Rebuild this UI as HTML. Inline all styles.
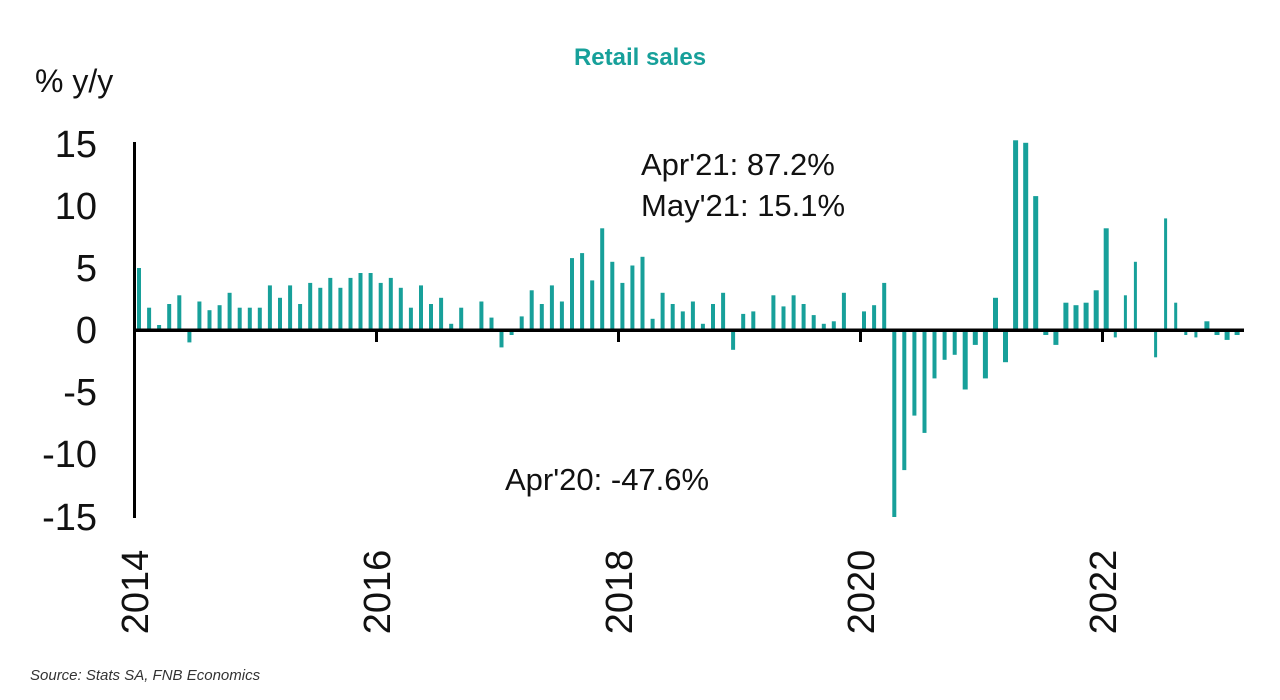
<!DOCTYPE html>
<html><head><meta charset="utf-8"><style>
html,body{margin:0;padding:0;background:#fff;width:1280px;height:700px;overflow:hidden}
svg text{font-family:"Liberation Sans",sans-serif}
</style></head><body>
<svg width="1280" height="700" xmlns="http://www.w3.org/2000/svg">
<text x="640" y="65" text-anchor="middle" font-size="24" font-weight="bold" fill="#17a09a">Retail sales</text>
<text x="35" y="92" font-size="32" fill="#111">% y/y</text>
<g font-size="38" fill="#111" text-anchor="end">
<text x="97" y="157">15</text>
<text x="97" y="219">10</text>
<text x="97" y="281">5</text>
<text x="97" y="343">0</text>
<text x="97" y="405">-5</text>
<text x="97" y="467">-10</text>
<text x="97" y="530">-15</text>
</g>
<g fill="#17a09a">
<rect x="137.0" y="268" width="4" height="62"/>
<rect x="147.1" y="307.7" width="4" height="22.3"/>
<rect x="157.1" y="325" width="4" height="5"/>
<rect x="167.2" y="304" width="4" height="26"/>
<rect x="177.3" y="295.3" width="4" height="34.7"/>
<rect x="187.4" y="330" width="4" height="12.4"/>
<rect x="197.4" y="301.5" width="4" height="28.5"/>
<rect x="207.5" y="310.2" width="4" height="19.8"/>
<rect x="217.6" y="305.2" width="4" height="24.8"/>
<rect x="227.6" y="292.8" width="4" height="37.2"/>
<rect x="237.7" y="307.7" width="4" height="22.3"/>
<rect x="247.8" y="307.7" width="4" height="22.3"/>
<rect x="257.8" y="307.7" width="4" height="22.3"/>
<rect x="267.9" y="285.4" width="4" height="44.6"/>
<rect x="278.0" y="297.8" width="4" height="32.2"/>
<rect x="288.1" y="285.4" width="4" height="44.6"/>
<rect x="298.1" y="304" width="4" height="26"/>
<rect x="308.2" y="282.9" width="4" height="47.1"/>
<rect x="318.3" y="287.8" width="4" height="42.2"/>
<rect x="328.3" y="277.9" width="4" height="52.1"/>
<rect x="338.4" y="287.8" width="4" height="42.2"/>
<rect x="348.5" y="277.9" width="4" height="52.1"/>
<rect x="358.5" y="273" width="4" height="57"/>
<rect x="368.6" y="273" width="4" height="57"/>
<rect x="378.7" y="282.9" width="4" height="47.1"/>
<rect x="388.8" y="277.9" width="4" height="52.1"/>
<rect x="398.8" y="287.8" width="4" height="42.2"/>
<rect x="408.9" y="307.7" width="4" height="22.3"/>
<rect x="419.0" y="285.4" width="4" height="44.6"/>
<rect x="429.0" y="304" width="4" height="26"/>
<rect x="439.1" y="297.8" width="4" height="32.2"/>
<rect x="449.2" y="323.8" width="4" height="6.2"/>
<rect x="459.2" y="307.7" width="4" height="22.3"/>
<rect x="469.3" y="328.8" width="4" height="1.2"/>
<rect x="479.4" y="301.5" width="4" height="28.5"/>
<rect x="489.5" y="317.6" width="4" height="12.4"/>
<rect x="499.5" y="330" width="4" height="17.4"/>
<rect x="509.6" y="330" width="4" height="5"/>
<rect x="519.7" y="316.4" width="4" height="13.6"/>
<rect x="529.7" y="290.3" width="4" height="39.7"/>
<rect x="539.8" y="304" width="4" height="26"/>
<rect x="549.9" y="285.4" width="4" height="44.6"/>
<rect x="559.9" y="301.5" width="4" height="28.5"/>
<rect x="570.0" y="258.1" width="4" height="71.9"/>
<rect x="580.1" y="253.1" width="4" height="76.9"/>
<rect x="590.2" y="280.4" width="4" height="49.6"/>
<rect x="600.2" y="228.3" width="4" height="101.7"/>
<rect x="610.3" y="261.8" width="4" height="68.2"/>
<rect x="620.4" y="282.9" width="4" height="47.1"/>
<rect x="630.4" y="265.5" width="4" height="64.5"/>
<rect x="640.5" y="256.8" width="4" height="73.2"/>
<rect x="650.6" y="318.8" width="4" height="11.2"/>
<rect x="660.6" y="292.8" width="4" height="37.2"/>
<rect x="670.7" y="304" width="4" height="26"/>
<rect x="680.8" y="311.4" width="4" height="18.6"/>
<rect x="690.9" y="301.5" width="4" height="28.5"/>
<rect x="700.9" y="323.8" width="4" height="6.2"/>
<rect x="711.0" y="304" width="4" height="26"/>
<rect x="721.1" y="292.8" width="4" height="37.2"/>
<rect x="731.1" y="330" width="4" height="19.8"/>
<rect x="741.2" y="313.9" width="4" height="16.1"/>
<rect x="751.3" y="311.4" width="4" height="18.6"/>
<rect x="761.3" y="328.8" width="4" height="1.2"/>
<rect x="771.4" y="295.3" width="4" height="34.7"/>
<rect x="781.5" y="306.4" width="4" height="23.6"/>
<rect x="791.6" y="295.3" width="4" height="34.7"/>
<rect x="801.6" y="304" width="4" height="26"/>
<rect x="811.7" y="315.1" width="4" height="14.9"/>
<rect x="821.8" y="323.8" width="4" height="6.2"/>
<rect x="831.8" y="321.3" width="4" height="8.7"/>
<rect x="841.9" y="292.8" width="4" height="37.2"/>
<rect x="852.0" y="330" width="4" height="1.2"/>
<rect x="862.0" y="311.4" width="4" height="18.6"/>
<rect x="872.1" y="305.2" width="4" height="24.8"/>
<rect x="882.2" y="282.9" width="4" height="47.1"/>
<rect x="892.3" y="330" width="4" height="187"/>
<rect x="902.3" y="330" width="4" height="140.1"/>
<rect x="912.4" y="330" width="4" height="85.6"/>
<rect x="922.5" y="330" width="4" height="102.9"/>
<rect x="932.5" y="330" width="4" height="48.4"/>
<rect x="942.6" y="330" width="4" height="29.8"/>
<rect x="952.7" y="330" width="4" height="24.8"/>
<rect x="962.7" y="330" width="5" height="59.5"/>
<rect x="972.8" y="330" width="5" height="14.9"/>
<rect x="982.9" y="330" width="5" height="48.4"/>
<rect x="993.0" y="297.8" width="5" height="32.2"/>
<rect x="1003.0" y="330" width="5" height="32.2"/>
<rect x="1013.1" y="140.3" width="5" height="189.7"/>
<rect x="1023.2" y="142.8" width="5" height="187.2"/>
<rect x="1033.2" y="196.1" width="5" height="133.9"/>
<rect x="1043.3" y="330" width="5" height="5"/>
<rect x="1053.4" y="330" width="5" height="14.9"/>
<rect x="1063.4" y="302.7" width="5" height="27.3"/>
<rect x="1073.5" y="305.2" width="5" height="24.8"/>
<rect x="1083.6" y="302.7" width="5" height="27.3"/>
<rect x="1093.7" y="290.3" width="5" height="39.7"/>
<rect x="1103.7" y="228.3" width="5" height="101.7"/>
<rect x="1113.8" y="330" width="3" height="7.4"/>
<rect x="1123.9" y="295.3" width="3" height="34.7"/>
<rect x="1133.9" y="261.8" width="3" height="68.2"/>
<rect x="1144.0" y="328.8" width="3" height="1.2"/>
<rect x="1154.1" y="330" width="3" height="27.3"/>
<rect x="1164.1" y="218.4" width="3" height="111.6"/>
<rect x="1174.2" y="302.7" width="3" height="27.3"/>
<rect x="1184.3" y="330" width="3" height="5"/>
<rect x="1194.4" y="330" width="3" height="7.4"/>
<rect x="1204.4" y="321.3" width="5" height="8.7"/>
<rect x="1214.5" y="330" width="5" height="5"/>
<rect x="1224.6" y="330" width="5" height="9.9"/>
<rect x="1234.6" y="330" width="5" height="5"/>
</g>
<rect x="133" y="142" width="3" height="376" fill="#000"/>
<rect x="133" y="328.5" width="1111" height="3.5" fill="#000"/>
<g fill="#000">
<rect x="375" y="330" width="3" height="12"/>
<rect x="617" y="330" width="3" height="12"/>
<rect x="859" y="330" width="3" height="12"/>
<rect x="1101" y="330" width="3" height="12"/>
</g>
<g font-size="38" fill="#111" text-anchor="middle">
<text transform="translate(148,592) rotate(-90)">2014</text>
<text transform="translate(390,592) rotate(-90)">2016</text>
<text transform="translate(632,592) rotate(-90)">2018</text>
<text transform="translate(874,592) rotate(-90)">2020</text>
<text transform="translate(1116,592) rotate(-90)">2022</text>
</g>
<g font-size="31" fill="#111">
<text x="641" y="175">Apr'21: 87.2%</text>
<text x="641" y="216">May'21: 15.1%</text>
<text x="505" y="490">Apr'20: -47.6%</text>
</g>
<text x="30" y="680" font-size="15" font-style="italic" fill="#333">Source: Stats SA, FNB Economics</text>
</svg>
</body></html>
